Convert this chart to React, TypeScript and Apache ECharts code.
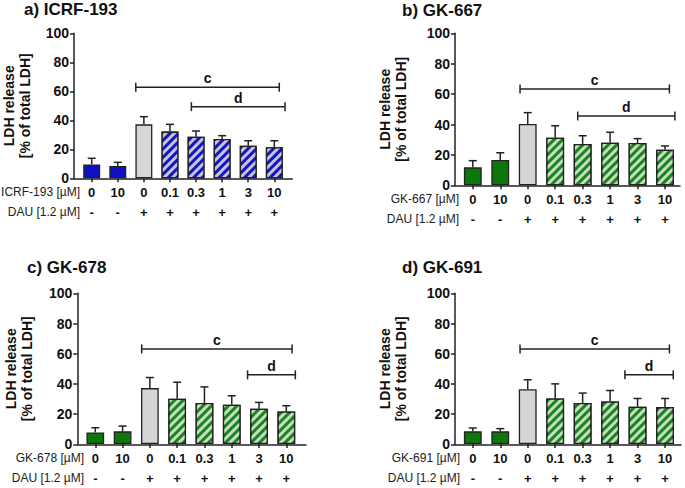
import React, { useEffect, useRef } from 'react';
import * as echarts from 'echarts';

// ---------- data ----------
const concLabels = ['0', '10', '0', '0.1', '0.3', '1', '3', '10'];
const dauSigns = ['-', '-', '+', '+', '+', '+', '+', '+'];
const barKinds = ['solid', 'solid', 'grey', 'hatch', 'hatch', 'hatch', 'hatch', 'hatch'];
const panelTitles = ['a) ICRF-193', 'b) GK-667', 'c) GK-678', 'd) GK-691'];
const compoundNames = ['ICRF-193', 'GK-667', 'GK-678', 'GK-691'];
const dauLabel = 'DAU [1.2 µM]';
const yAxisName = 'LDH release\n[% of total LDH]';

const meansA = [9.6, 8.5, 37.2, 32.2, 28.7, 27.1, 22.5, 21.4];
const errA = [4.2, 2.5, 5.3, 5.0, 3.9, 2.3, 3.4, 4.5];
const meansB = [11.8, 16.6, 40.3, 31.3, 27.2, 28.0, 27.8, 23.4];
const errB = [4.4, 4.8, 7.5, 7.9, 5.4, 6.9, 2.9, 2.5];
const meansC = [7.7, 8.4, 37.1, 30.0, 27.2, 26.0, 23.4, 21.6];
const errC = [3.1, 3.5, 7.0, 11.0, 10.7, 6.0, 4.2, 3.8];
const meansD = [8.4, 8.4, 36.4, 30.2, 27.2, 28.2, 24.8, 24.5];
const errD = [2.2, 1.8, 6.2, 9.7, 6.6, 7.3, 5.4, 5.7];

// significance brackets: [from (category units), to, level]
const bracketsA = [[1.69, 7.19, 62.8], [3.82, 7.41, 49.4]];
const bracketsB = [[1.72, 7.16, 63.4], [3.82, 7.36, 45.6]];
const bracketsC = [[1.70, 7.21, 63.1], [5.58, 7.33, 45.9]];
const bracketsD = [[1.72, 7.16, 63.1], [5.54, 7.30, 45.9]];
const bracketLabels = ['c', 'd'];

// ---------- styles / layout ----------
const FONT = '"Liberation Sans", Arial, Helvetica, sans-serif';
const INK = '#222';
const palettes: Record<string, { solid: string; stripe: string; light: string }> = {
  blue: { solid: '#1010c0', stripe: '#1414c4', light: '#c4c6d8' },
  green: { solid: '#0c780c', stripe: '#1a861a', light: '#c6dcc6' },
};
const GREY = '#d6d6d6';

const layouts = [
  { axisLeft: 73, axisRight: 292.3, top: 33.3, bottom: 178.3, c0: 91.7, step: 26.09, titleX: 24, titleY: 1, rowX: 80, nameGap: 41 },
  { axisLeft: 455, axisRight: 680, top: 33.3, bottom: 185.3, c0: 472.8, step: 27.46, titleX: 402, titleY: 2, rowX: 459, nameGap: 46 },
  { axisLeft: 77.3, axisRight: 306, top: 293.3, bottom: 444.3, c0: 95.3, step: 27.29, titleX: 27, titleY: 259, rowX: 84, nameGap: 42 },
  { axisLeft: 455, axisRight: 681, top: 293.3, bottom: 444.3, c0: 472.8, step: 27.46, titleX: 402, titleY: 259, rowX: 460, nameGap: 46 },
];

const panels = [
  { means: meansA, errs: errA, brackets: bracketsA, palette: 'blue' },
  { means: meansB, errs: errB, brackets: bracketsB, palette: 'green' },
  { means: meansC, errs: errC, brackets: bracketsC, palette: 'green' },
  { means: meansD, errs: errD, brackets: bracketsD, palette: 'green' },
];

function barItemStyle(kind: string, paletteName: string) {
  const p = palettes[paletteName];
  const base = { borderColor: INK, borderWidth: 1.3 };
  if (kind === 'solid') return { ...base, color: p.solid };
  if (kind === 'grey') return { ...base, color: GREY };
  return {
    ...base,
    color: p.stripe,
    decal: {
      symbol: 'rect',
      symbolSize: 1,
      dashArrayX: [1, 0],
      dashArrayY: [3, 3],
      rotation: -Math.PI / 4,
      color: p.light,
    },
  };
}

function buildOption() {
  const grid: any[] = [];
  const xAxis: any[] = [];
  const yAxis: any[] = [];
  const series: any[] = [];
  const title: any[] = [];
  const graphic: any[] = [];

  panels.forEach((panel, p) => {
    const L = layouts[p];
    const h = L.bottom - L.top;
    grid.push({ left: L.axisLeft, top: L.top, width: L.axisRight - L.axisLeft, height: h });
    grid.push({ left: L.c0 - L.step / 2, top: L.top, width: L.step * 8, height: h });

    // frame x (axis line only)
    xAxis.push({
      gridIndex: 2 * p, type: 'value', min: 0, max: 1,
      axisLine: { show: true, onZero: false, lineStyle: { color: INK, width: 1.5 } },
      axisTick: { show: false }, axisLabel: { show: false }, splitLine: { show: false },
    });
    // category x (ticks + labels)
    xAxis.push({
      gridIndex: 2 * p + 1, type: 'category', data: concLabels,
      axisLine: { show: false },
      axisTick: { show: true, alignWithLabel: true, length: 4, lineStyle: { color: INK, width: 1.5 } },
      axisLabel: {
        interval: 0, margin: 4, color: '#111', fontWeight: 'bold', fontSize: 13, lineHeight: 20, fontFamily: FONT,
        formatter: (v: string, i: number) => `${v}\n${dauSigns[i]}`,
      },
    });
    // hidden value x for annotations
    xAxis.push({ gridIndex: 2 * p + 1, type: 'value', min: -0.5, max: 7.5, show: false });

    yAxis.push({
      gridIndex: 2 * p, type: 'value', min: 0, max: 100, interval: 20,
      axisLine: { show: true, lineStyle: { color: INK, width: 1.5 } },
      axisTick: { show: true, length: 4, lineStyle: { color: INK, width: 1.5 } },
      axisLabel: { margin: 5, color: '#111', fontWeight: 'bold', fontSize: 14, fontFamily: FONT },
      splitLine: { show: false },
      name: yAxisName, nameLocation: 'middle', nameGap: L.nameGap,
      nameTextStyle: { color: '#111', fontWeight: 'bold', fontSize: 14, lineHeight: 16, fontFamily: FONT },
    });
    yAxis.push({ gridIndex: 2 * p + 1, type: 'value', min: 0, max: 100, show: false });

    const xCat = 3 * p + 1;
    const xVal = 3 * p + 2;
    const yData = 2 * p + 1;

    series.push({
      type: 'bar', xAxisIndex: xCat, yAxisIndex: yData, barWidth: '65%', z: 2,
      data: panel.means.map((m, i) => ({ value: m, itemStyle: barItemStyle(barKinds[i], panel.palette) })),
    });

    series.push({
      type: 'custom', xAxisIndex: xVal, yAxisIndex: yData, z: 3,
      data: panel.means.map((m, i) => [i, m, panel.errs[i]]),
      renderItem: (_params: any, api: any) => {
        const x = api.value(0), m = api.value(1), e = api.value(2);
        const b = api.coord([x, m]);
        const t = api.coord([x, m + e]);
        const st = { stroke: INK, lineWidth: 1.5 };
        return {
          type: 'group',
          children: [
            { type: 'line', shape: { x1: b[0], y1: b[1], x2: t[0], y2: t[1] }, style: st },
            { type: 'line', shape: { x1: t[0] - 4, y1: t[1], x2: t[0] + 4, y2: t[1] }, style: st },
          ],
        };
      },
    });

    series.push({
      type: 'custom', xAxisIndex: xVal, yAxisIndex: yData, z: 4,
      data: panel.brackets.map((b) => [b[0], b[2], b[1]]),
      renderItem: (params: any, api: any) => {
        const x1 = api.value(0), y = api.value(1), x2 = api.value(2);
        const a = api.coord([x1, y]);
        const c = api.coord([x2, y]);
        const st = { stroke: INK, lineWidth: 1.5 };
        return {
          type: 'group',
          children: [
            { type: 'line', shape: { x1: a[0], y1: a[1], x2: c[0], y2: c[1] }, style: st },
            { type: 'line', shape: { x1: a[0], y1: a[1] - 4.5, x2: a[0], y2: a[1] + 4.5 }, style: st },
            { type: 'line', shape: { x1: c[0], y1: c[1] - 4.5, x2: c[0], y2: c[1] + 4.5 }, style: st },
            {
              type: 'text', x: (a[0] + c[0]) / 2, y: a[1] - 2,
              style: { text: bracketLabels[params.dataIndex], fill: '#111', font: `bold 14px ${FONT}`, align: 'center', verticalAlign: 'bottom' },
            },
          ],
        };
      },
    });

    title.push({
      text: panelTitles[p], left: L.titleX, top: L.titleY, padding: 0,
      textStyle: { color: '#111', fontWeight: 'bold', fontSize: 17, fontFamily: FONT },
    });

    graphic.push({
      type: 'text', x: L.rowX, y: L.bottom + 14,
      style: { text: `${compoundNames[p]} [µM]`, fill: '#222', font: `12px ${FONT}`, align: 'right', verticalAlign: 'middle' },
    });
    graphic.push({
      type: 'text', x: L.rowX, y: L.bottom + 34,
      style: { text: dauLabel, fill: '#222', font: `12px ${FONT}`, align: 'right', verticalAlign: 'middle' },
    });
  });

  return { animation: false, backgroundColor: '#fff', title, grid, xAxis, yAxis, series, graphic };
}

export default function App() {
  const ref = useRef<HTMLDivElement>(null);
  useEffect(() => {
    if (!ref.current) return;
    const chart = echarts.init(ref.current, null, { renderer: 'svg' });
    chart.setOption(buildOption() as any);
    return () => chart.dispose();
  }, []);
  return (
    <div
      ref={ref}
      style={{ position: 'fixed', left: 0, top: 0, width: 685, height: 488, background: '#fff' }}
    />
  );
}
